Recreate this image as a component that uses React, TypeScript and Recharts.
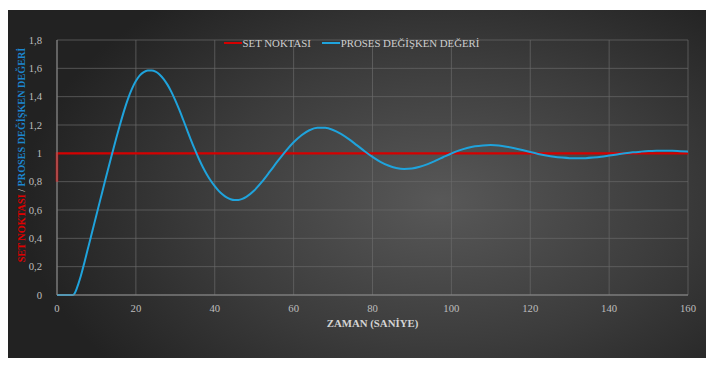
import { CartesianGrid, Legend, Line, LineChart, XAxis, YAxis } from 'recharts';

const times = [
  0, 2, 4, 4.5, 5, 6, 7, 8, 9, 10, 11, 12, 13, 14, 15, 16, 17, 18, 19, 20, 21, 22, 23, 24, 25, 26, 27, 28,
  29, 30, 31, 32, 33, 34, 35, 36, 37, 38, 39, 40, 41, 42, 43, 44, 45, 46, 47, 48, 50, 52, 54, 56, 58, 60,
  62, 64, 66, 68, 70, 72, 74, 76, 78, 80, 82, 84, 86, 88, 90, 92, 94, 96, 98, 100, 102, 104, 106, 108,
  110, 112, 114, 116, 118, 120, 122, 124, 126, 128, 130, 132, 134, 136, 138, 140, 142, 144, 146, 148,
  150, 152, 154, 156, 158, 160,
];
const processValues = [
  0, 0, 0, 0.012, 0.045, 0.13, 0.235, 0.345, 0.455, 0.565, 0.675, 0.785, 0.893, 1.0, 1.105, 1.205,
  1.3, 1.385, 1.455, 1.51, 1.55, 1.573, 1.584, 1.585, 1.577, 1.557, 1.526, 1.485, 1.434, 1.374, 1.308,
  1.237, 1.164, 1.092, 1.024, 0.96, 0.902, 0.851, 0.806, 0.768, 0.735, 0.709, 0.689, 0.676, 0.67,
  0.671, 0.679, 0.693, 0.738, 0.8, 0.872, 0.946, 1.016, 1.078, 1.128, 1.163, 1.18, 1.18, 1.165, 1.137,
  1.1, 1.058, 1.015, 0.975, 0.94, 0.914, 0.897, 0.89, 0.893, 0.905, 0.924, 0.948, 0.974, 0.999, 1.021,
  1.038, 1.05, 1.056, 1.058, 1.055, 1.047, 1.036, 1.023, 1.009, 0.996, 0.985, 0.976, 0.97, 0.966,
  0.965, 0.966, 0.97, 0.976, 0.984, 0.992, 1.0, 1.007, 1.012, 1.016, 1.018, 1.019, 1.018, 1.015, 1.012,
];
const setTimes = [0, 0, 160];
const setValues = [0.8, 1, 1];
const xTicks = [0, 20, 40, 60, 80, 100, 120, 140, 160];
const yTicks = [0, 0.2, 0.4, 0.6, 0.8, 1, 1.2, 1.4, 1.6, 1.8];

const processData = times.map((t, i) => ({ t, v: processValues[i] }));
const setData = setTimes.map((t, i) => ({ t, v: setValues[i] }));

const font = '"Liberation Serif", "Times New Roman", serif';
const red = '#d50000';
const blue = '#1fa3dc';

function LegendBox() {
  const item = (color: string, label: string) => (
    <span style={{ display: 'inline-flex', alignItems: 'center', marginRight: 11 }}>
      <span style={{ width: 18, height: 2, background: color, display: 'inline-block', marginRight: 1 }} />
      <span>{label}</span>
    </span>
  );
  return (
    <div
      style={{
        fontFamily: font,
        fontSize: 10.8,
        lineHeight: '14px',
        color: '#cfcfcf',
        textAlign: 'center',
        whiteSpace: 'nowrap',
        paddingLeft: 2,
      }}
    >
      {item(red, 'SET NOKTASI')}
      {item(blue, 'PROSES DEĞİŞKEN DEĞERİ')}
    </div>
  );
}

export default function App() {
  return (
    <div style={{ position: 'absolute', left: 0, top: 0, width: 712, height: 365, background: '#fff' }}>
      <div
        style={{
          position: 'absolute',
          left: 8,
          top: 10,
          width: 698,
          height: 348,
          background: 'radial-gradient(ellipse 60% 75% at 62% 55%, #585858 0%, #3c3c3c 55%, #222 100%)',
        }}
      />
      <div style={{ position: 'absolute', left: 0, top: 0 }}>
        <LineChart width={712} height={365} margin={{ top: 23, right: 24, bottom: 40, left: 0 }}>
          <CartesianGrid stroke="#6a6a6a" strokeOpacity={0.7} />
          <XAxis
            type="number"
            dataKey="t"
            domain={[0, 160]}
            ticks={xTicks}
            height={30}
            stroke="#8c8c8c"
            tickLine={false}
            tick={{ fill: '#bdbdbd', fontSize: 10.7, fontFamily: font }}
            tickMargin={3}
            allowDuplicatedCategory={false}
          />
          <YAxis
            type="number"
            dataKey="v"
            domain={[0, 1.8]}
            ticks={yTicks}
            width={57}
            stroke="#8c8c8c"
            tickLine={false}
            tick={{ fill: '#bdbdbd', fontSize: 10.7, fontFamily: font }}
            tickFormatter={(v: number) => String(Math.round(v * 10) / 10).replace('.', ',')}
            tickMargin={9}
          />
          <Legend
            verticalAlign="top"
            content={() => <LegendBox />}
            wrapperStyle={{ top: 33, left: 0, width: 712 }}
          />
          <Line
            data={setData}
            dataKey="v"
            type="linear"
            stroke={red}
            strokeWidth={2.4}
            dot={false}
            isAnimationActive={false}
          />
          <Line
            data={processData}
            dataKey="v"
            type="monotone"
            stroke={blue}
            strokeWidth={2}
            dot={false}
            isAnimationActive={false}
          />
        </LineChart>
      </div>
      <div
        style={{
          position: 'absolute',
          left: 57,
          width: 631,
          top: 316,
          lineHeight: '14px',
          textAlign: 'center',
          fontFamily: font,
          fontWeight: 'bold',
          fontSize: 10.8,
          color: '#d4d4d4',
        }}
      >
        ZAMAN (SANİYE)
      </div>
      <div
        style={{
          position: 'absolute',
          left: 22,
          top: 155,
          transform: 'translate(-50%, -50%) rotate(-90deg)',
          whiteSpace: 'nowrap',
          lineHeight: '14px',
          fontFamily: font,
          fontWeight: 'bold',
          fontSize: 10.2,
        }}
      >
        <span style={{ color: '#e00000' }}>SET NOKTASI</span>
        <span style={{ color: '#d4d4d4', fontWeight: 'normal' }}> / </span>
        <span style={{ color: '#1c86d0' }}>PROSES DEĞİŞKEN DEĞERİ</span>
      </div>
    </div>
  );
}
